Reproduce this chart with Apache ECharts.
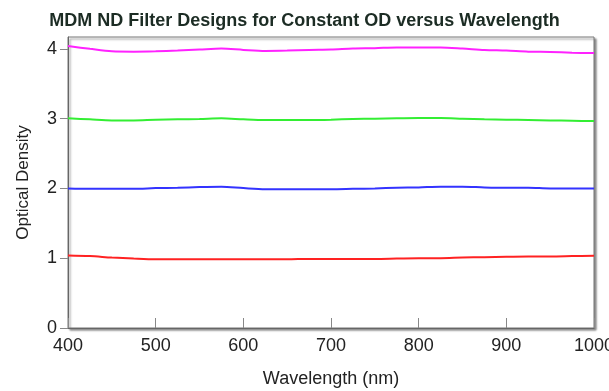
<!DOCTYPE html>
<html>
<head>
<meta charset="utf-8">
<script src="https://cdn.jsdelivr.net/npm/echarts@6/dist/echarts.min.js"></script>
<style>
html,body{margin:0;padding:0;background:#fff;}
#chart{width:609px;height:391px;}
</style>
</head>
<body>
<div id="chart"></div>
<script>
const wavelengths = [400,425,450,475,500,525,550,575,600,625,650,675,700,725,750,775,800,825,850,875,900,925,950,975,1000];
const od4 = [4.04,4.00,3.965,3.96,3.965,3.975,3.99,4.005,3.985,3.97,3.975,3.985,3.99,4.005,4.01,4.02,4.02,4.02,4.005,3.985,3.975,3.96,3.955,3.945,3.94];
const od3 = [3.005,2.99,2.975,2.975,2.985,2.99,2.995,3.005,2.99,2.98,2.98,2.98,2.985,2.995,3.0,3.005,3.01,3.01,3.0,2.99,2.985,2.98,2.975,2.97,2.965];
const od2 = [2.0,1.995,1.995,1.995,2.005,2.01,2.02,2.025,2.005,1.99,1.99,1.99,1.99,1.995,2.0,2.01,2.015,2.025,2.025,2.015,2.01,2.01,2.0,2.0,2.0];
const od1 = [1.04,1.03,1.01,0.995,0.985,0.985,0.985,0.985,0.985,0.985,0.985,0.99,0.99,0.99,0.99,0.995,1.0,1.0,1.01,1.015,1.02,1.025,1.025,1.03,1.035];
const titleText = 'MDM ND Filter Designs for Constant OD versus Wavelength';
const xName = 'Wavelength (nm)';
const yName = 'Optical Density';

function pairs(vals){ return wavelengths.map((w,i)=>[w, vals[i]]); }

const chart = echarts.init(document.getElementById('chart'), null, {renderer:'canvas'});
const font = 'Liberation Sans, Arial, sans-serif';
function line(name, vals, color){
  return {name, type:'line', data:pairs(vals), showSymbol:false, smooth:0.3,
    lineStyle:{color, width:2}, itemStyle:{color}, animation:false};
}
chart.setOption({
  animation:false,
  title:{text:titleText, left:'center', top:7,
    textStyle:{fontFamily:font, fontSize:18, fontWeight:'bold', color:'#1c2c24'}},
  grid:{left:68, right:15, top:37, bottom:63, show:true, backgroundColor:'#fff',
    outerBoundsMode:'none', containLabel:false,
    borderColor:'#777', borderWidth:1,
    shadowColor:'rgba(0,0,0,0.45)', shadowOffsetX:2, shadowOffsetY:2, shadowBlur:2},
  xAxis:{type:'value', min:400, max:1000, interval:100,
    name:xName, nameLocation:'middle', nameGap:42,
    nameTextStyle:{fontFamily:font, fontSize:18, color:'#222'},
    axisLine:{show:true, lineStyle:{color:'#666', width:1}},
    axisTick:{show:true, inside:true, length:10, lineStyle:{color:'#888'}},
    axisLabel:{fontFamily:font, fontSize:18, color:'#222', margin:9, formatter:(v)=>String(v)},
    splitLine:{show:false}},
  yAxis:{type:'value', min:0, max:4.17, interval:1,
    name:yName, nameLocation:'middle', nameGap:36, nameRotate:90,
    nameTextStyle:{fontFamily:font, fontSize:17, color:'#222'},
    axisLine:{show:true, lineStyle:{color:'#666', width:1}},
    axisTick:{show:true, inside:false, length:8, lineStyle:{color:'#888'}},
    axisLabel:{fontFamily:font, fontSize:18, color:'#222', margin:11, showMaxLabel:false},
    splitLine:{show:false}},
  series:[
    line('OD4', od4, '#ff22ff'),
    line('OD3', od3, '#33ee33'),
    line('OD2', od2, '#3333ff'),
    line('OD1', od1, '#ff2222')
  ]
});
</script>
</body>
</html>
